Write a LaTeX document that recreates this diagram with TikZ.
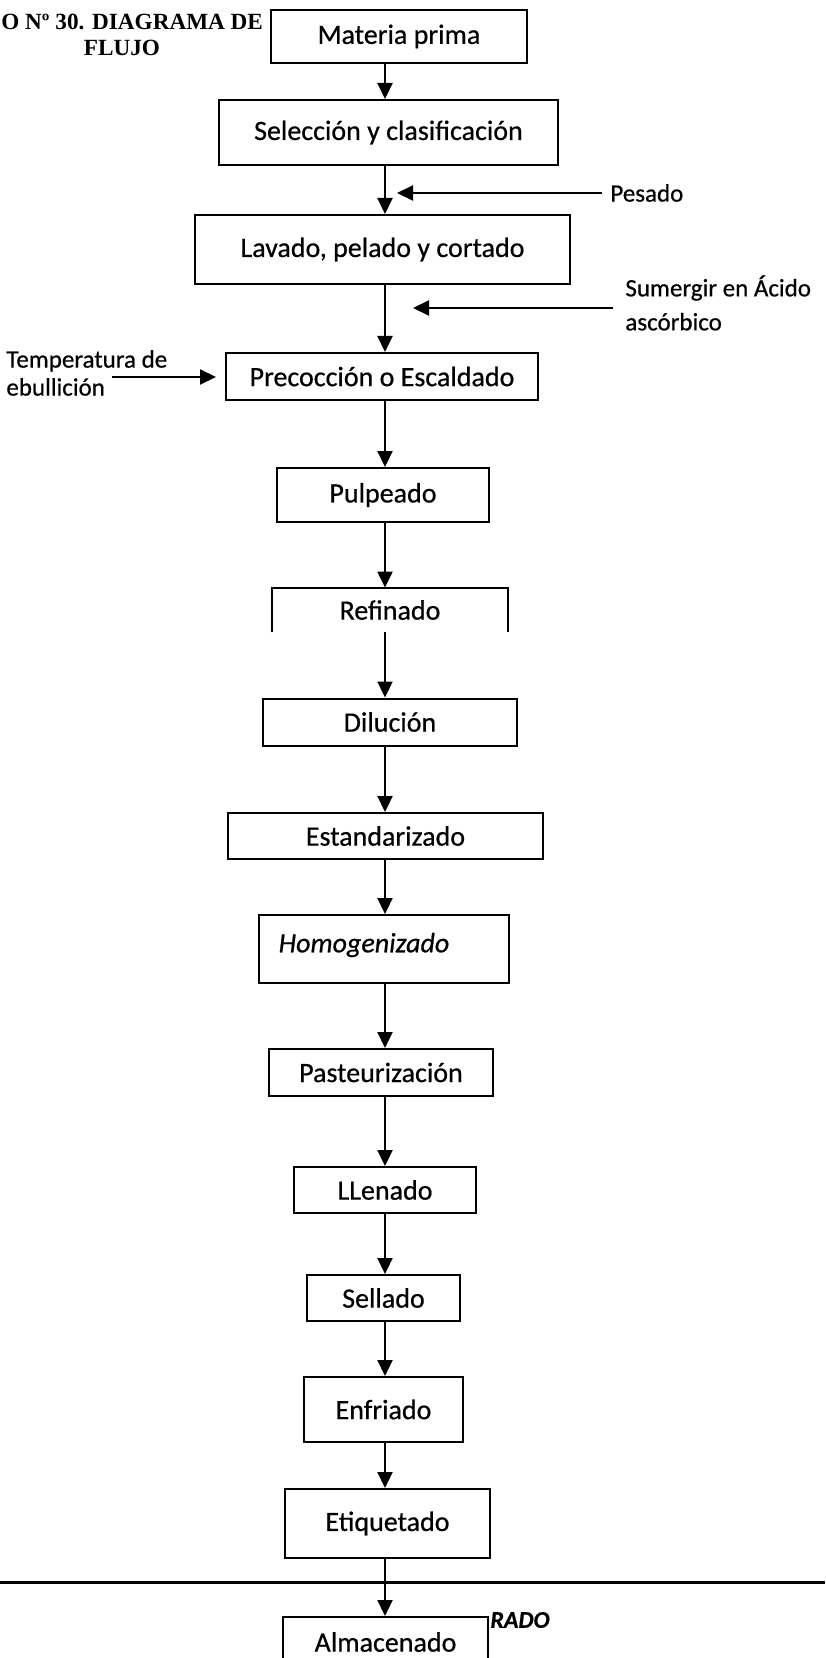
\documentclass[tikz,border=0pt]{standalone}
\usepackage{fontspec}
\setmainfont{Carlito}[FakeBold=0.6]
\newfontfamily\titlefont{Liberation Serif}
\usetikzlibrary{arrows.meta}

\begin{document}
\begin{tikzpicture}[
  x=0.5pt, y=-0.5pt,
  font=\fontsize{14}{16}\selectfont,
  stage/.style={rectangle, draw, line width=1pt, inner sep=0pt, align=center},
  openstage/.style={rectangle, inner sep=0pt, align=center},
  note/.style={font=\fontsize{12.5}{17}\selectfont, align=left, inner sep=0pt},
  heading/.style={font=\titlefont\bfseries\fontsize{11.6}{14}\selectfont, inner sep=0pt},
  flow/.style={-{Triangle[length=8pt,width=7.5pt]}, line width=1.1pt}
]
\useasboundingbox (0,0) rectangle (825,1658);

% Title
\node[heading, anchor=west] (title) at (1,22) {O Nº 30. DIAGRAMA DE};
\node[heading] (title2) at (122,48) {FLUJO};

% Process stages, top to bottom
\node[stage, minimum width=128pt, minimum height=26.5pt] (mat) at (399,36.5) {Materia prima};
\node[stage, minimum width=169.5pt, minimum height=32.5pt] (sel) at (388.5,132.5) {Selección y clasificación};
\node[stage, minimum width=187.5pt, minimum height=34.5pt] (lav) at (382.5,249.5) {Lavado, pelado y cortado};
\node[stage, minimum width=156pt, minimum height=23.5pt] (pre) at (382,376.5) {Precocción o Escaldado};
\node[stage, minimum width=106pt, minimum height=27pt] (pul) at (383,495) {Pulpeado};
\node[openstage, minimum width=118pt, minimum height=22pt] (ref) at (390,610) {Refinado};
\node[stage, minimum width=127pt, minimum height=23.5pt] (dil) at (390,722) {Dilución};
\node[stage, minimum width=157.5pt, minimum height=23pt] (est) at (385.5,836) {Estandarizado};
\node[stage, minimum width=125pt, minimum height=34pt] (hom) at (384,949) {};
\node[font=\itshape\fontsize{14}{16}\selectfont, inner sep=0pt] (homtxt) at (364,945) {Homogenizado};
\node[stage, minimum width=112pt, minimum height=23.5pt] (pas) at (381,1072.5) {Pasteurización};
\node[stage, minimum width=91pt, minimum height=23pt] (lle) at (385,1190) {LLenado};
\node[stage, minimum width=76.5pt, minimum height=23pt] (sell) at (383.5,1298) {Sellado};
\node[stage, minimum width=79.5pt, minimum height=32.5pt] (enf) at (383.5,1409.5) {Enfriado};
\node[stage, minimum width=102.5pt, minimum height=34.5pt] (eti) at (387.5,1523.5) {Etiquetado};
\node[stage, minimum width=102.5pt, minimum height=25pt] (alm) at (385.5,1642) {Almacenado};

% Refinado box is open at the bottom
\draw[line width=1pt] (ref.south west) -- (ref.north west) -- (ref.north east) -- (ref.south east);

% Main flow
\coordinate (axis) at (385,0);
\draw[flow] (mat.south -| axis) -- (sel.north -| axis);
\draw[flow] (sel.south -| axis) -- (lav.north -| axis);
\draw[flow] (lav.south -| axis) -- (pre.north -| axis);
\draw[flow] (pre.south -| axis) -- (pul.north -| axis);
\draw[flow] (pul.south -| axis) -- (ref.north -| axis);
\draw[flow] (ref.south -| axis) -- (dil.north -| axis);
\draw[flow] (dil.south -| axis) -- (est.north -| axis);
\draw[flow] (est.south -| axis) -- (hom.north -| axis);
\draw[flow] (hom.south -| axis) -- (pas.north -| axis);
\draw[flow] (pas.south -| axis) -- (lle.north -| axis);
\draw[flow] (lle.south -| axis) -- (sell.north -| axis);
\draw[flow] (sell.south -| axis) -- (enf.north -| axis);
\draw[flow] (enf.south -| axis) -- (eti.north -| axis);
\draw[flow] (eti.south -| axis) -- (alm.north -| axis);

% Side inputs
\coordinate (pestip) at (397,193);
\node[note, anchor=west] (pes) at (610,193) {Pesado};
\draw[flow, shorten <=4pt] (pes.west) -- (pestip);

\coordinate (sumtip) at (413,308);
\node[note, anchor=west] (sum) at (625,303) {Sumergir en Ácido\\ascórbico};
\draw[flow, shorten <=6pt] (sum.west |- sumtip) -- (sumtip);

\coordinate (temtail) at (112,377);
\node[note, anchor=west, font=\fontsize{12.5}{14}\selectfont] (tem) at (6,373) {Temperatura de\\ebullición};
\draw[flow, shorten >=4.5pt] (temtail) -- (pre.west |- temtail);

% Page rule and stamp remnant
\coordinate (ruleL) at (0,1582);
\coordinate (ruleR) at (825,1582);
\draw[line width=1.5pt] (ruleL) -- (ruleR);
\node[font=\bfseries\itshape\fontsize{12}{12}\selectfont, anchor=west, inner sep=0pt] (stamp) at (490,1620) {RADO};
\end{tikzpicture}
\end{document}
